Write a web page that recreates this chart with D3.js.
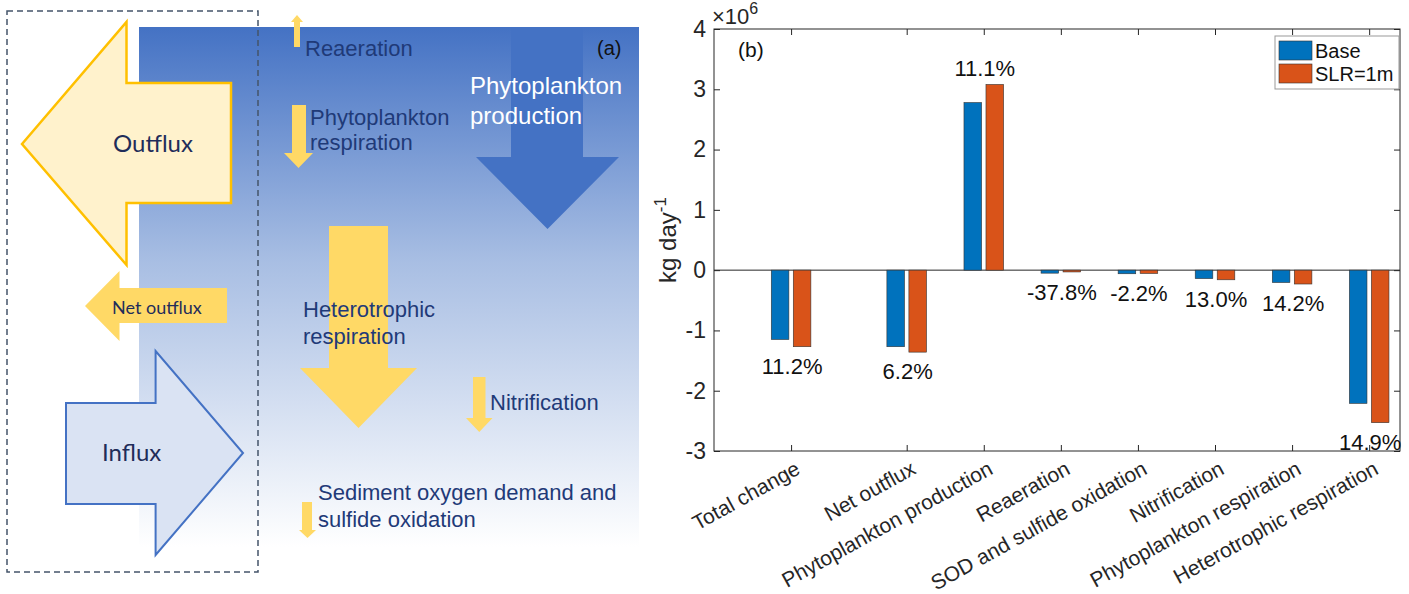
<!DOCTYPE html>
<html><head><meta charset="utf-8">
<script src="https://cdn.jsdelivr.net/npm/d3@7"></script>
<style>body{margin:0;background:#fff}svg{display:block}</style>
</head><body><svg id="c" width="1409" height="594"></svg>
<script>
const categories=["Total change","Net outflux","Phytoplankton production","Reaeration","SOD and sulfide oxidation","Nitrification","Phytoplankton respiration","Heterotrophic respiration"];
const positions=[0,1.5,2.5,3.5,4.5,5.5,6.5,7.5];
const baseVals=[-1.15,-1.27,2.78,-0.05,-0.06,-0.14,-0.205,-2.21];
const slrVals=[-1.27,-1.36,3.08,-0.03,-0.055,-0.16,-0.23,-2.53];
const pctLabels=["11.2%","6.2%","11.1%","-37.8%","-2.2%","13.0%","14.2%","14.9%"];
const yTicks=[-3,-2,-1,0,1,2,3,4];
const seriesNames=["Base","SLR=1m"];
const colors=["#0072bd","#d95319"];

const NF="Liberation Sans, Arial, sans-serif";
const svg=d3.select("#c");
// ---------- Panel (a) ----------
const A=svg.append("g");
const defs=svg.append("defs");
const lg=defs.append("linearGradient").attr("id","bg").attr("x1",0).attr("y1",0).attr("x2",0).attr("y2",1);
lg.append("stop").attr("offset","0").attr("stop-color","#4472c4");
lg.append("stop").attr("offset","0.45").attr("stop-color","#a8bee3");
lg.append("stop").attr("offset","1").attr("stop-color","#ffffff");
A.append("rect").attr("x",139).attr("y",27).attr("width",500).attr("height",520).attr("fill","url(#bg)");
const line=d3.line();
function poly(pts,fill,stroke,sw){A.append("path").attr("d",line(pts)+"Z").attr("fill",fill).attr("stroke",stroke||"none").attr("stroke-width",sw||0);}
function down(x0,x1,hx0,hx1,y0,yh,tip,fill){const c=(hx0+hx1)/2;poly([[x0,y0],[x1,y0],[x1,yh],[hx1,yh],[c,tip],[hx0,yh],[x0,yh]],fill);}
poly([[22,144],[126.5,22],[126.5,83],[231,83],[231,203],[126.5,203],[126.5,265]],"#fff2cc","#ffc000",2.5);
poly([[85,306],[119.5,271],[119.5,288],[227,288],[227,323],[119.5,323],[119.5,341]],"#ffd966");
poly([[66,403],[155.6,403],[155.6,351],[243,453],[155.6,555],[155.6,504],[66,504]],"#dae3f3","#4472c4",2);
down(511,583,476,619,27,157,229,"#4472c4");
down(329,388,300,417,226,368,428,"#ffd966");
down(292,306,284,313,105,153,168,"#ffd966");
down(473,485.5,466,492.5,377,418,432,"#ffd966");
down(302,312,299,316,502,530,538,"#ffd966");
poly([[294,47],[300,47],[300,22],[303,22],[297,15],[291,22],[294,22]],"#ffd966");
A.append("rect").attr("x",7).attr("y",11).attr("width",251).attr("height",561).attr("fill","none").attr("stroke","#44546a").attr("stroke-width",1.5).attr("stroke-dasharray","6,4");
function txt(x,y,s,size,col,fam,anchor){A.append("text").attr("x",x).attr("y",y).attr("font-size",size).attr("fill",col).attr("font-family",fam||NF).attr("text-anchor",anchor||"start").text(s);}
const navy="#1f3a78";
txt(305,56,"Reaeration",22,navy);
txt(310,125,"Phytoplankton",22,navy);txt(310,150,"respiration",22,navy);
txt(470,94,"Phytoplankton",24,"#ffffff");txt(470,124,"production",24,"#ffffff");
txt(597,55,"(a)",20,"#111");
txt(153,152,"Outflux",24,"#1f2d5a","Lato, sans-serif","middle");
txt(112,314,"Net outflux",18,"#1f2d5a","Lato, sans-serif");
txt(102,461,"Influx",24,"#1f2d5a","Lato, sans-serif");
txt(303,317,"Heterotrophic",22,navy);txt(303,344,"respiration",22,navy);
txt(490,410,"Nitrification",22,navy);
txt(318,500,"Sediment oxygen demand and",22,navy);txt(318,527,"sulfide oxidation",22,navy);

// ---------- Panel (b) ----------
const L=714,R=1400,T=29,B=451;
const x=d3.scaleLinear().domain([-1,7.9]).range([L,R]);
const y=d3.scaleLinear().domain([-3,4]).range([B,T]);
const G=svg.append("g").attr("font-family",NF);
const ax="#262626";
const fs=23;
const yA=G.append("g").attr("transform",`translate(${L},0)`).call(d3.axisLeft(y).tickValues(yTicks).tickSize(-6).tickPadding(8).tickFormat(d=>String(d)));
const yA2=G.append("g").attr("transform",`translate(${R},0)`).call(d3.axisRight(y).tickValues(yTicks).tickSize(-6).tickFormat(""));
const xA=G.append("g").attr("transform",`translate(0,${B})`).call(d3.axisBottom(x).tickValues(positions).tickSize(-6).tickFormat((d,i)=>categories[i]));
const xA2=G.append("g").attr("transform",`translate(0,${T})`).call(d3.axisTop(x).tickValues(positions).tickSize(-6).tickFormat(""));
[yA,yA2,xA,xA2].forEach(a=>{a.select(".domain").remove();a.selectAll("line").attr("stroke",ax);a.selectAll("text").attr("fill",ax).attr("font-size",fs).attr("font-family",NF);});
xA.selectAll("text").attr("font-size",21).attr("text-anchor","end").attr("y",0).attr("dy",0).attr("transform","translate(10,22) rotate(-29)");
G.append("rect").attr("x",L).attr("y",T).attr("width",R-L).attr("height",B-T).attr("fill","none").attr("stroke",ax);
G.append("line").attr("x1",L).attr("x2",R).attr("y1",y(0)).attr("y2",y(0)).attr("stroke",ax);
const bw=17.6,off=11;
[baseVals,slrVals].forEach((vals,s)=>{
  G.selectAll(null).data(vals).enter().append("rect")
   .attr("x",(d,i)=>x(positions[i])+(s?off:-off)-bw/2).attr("width",bw)
   .attr("y",d=>y(Math.max(0,d))).attr("height",d=>Math.abs(y(d)-y(0)))
   .attr("fill",colors[s]).attr("stroke","#333").attr("stroke-width",0.6);
});
G.selectAll(null).data(pctLabels).enter().append("text")
 .attr("x",(d,i)=>x(positions[i])+1).attr("text-anchor","middle").attr("font-size",22).attr("fill","#111")
 .attr("y",(d,i)=>{const m=slrVals[i]>0?Math.max(baseVals[i],slrVals[i]):Math.min(baseVals[i],slrVals[i]);return m>0?y(m)-8:y(m)+27;})
 .text(d=>d);
G.append("text").attr("x",738).attr("y",57).attr("font-size",21).attr("fill","#111").text("(b)");
G.append("text").attr("transform",`translate(676,240) rotate(-90)`).attr("text-anchor","middle").attr("font-size",24).attr("fill",ax)
 .html('kg day<tspan dy="-10" font-size="17">-1</tspan>');
G.append("text").attr("x",712).attr("y",24).attr("font-size",22).attr("fill",ax).html('×10<tspan dy="-10" font-size="16">6</tspan>');
const lgG=G.append("g");
lgG.append("rect").attr("x",1275).attr("y",36).attr("width",124).attr("height",53).attr("fill","#fff").attr("stroke","#999");
seriesNames.forEach((n,i)=>{
  lgG.append("rect").attr("x",1279).attr("y",41+i*23).attr("width",33).attr("height",19).attr("fill",colors[i]).attr("stroke","#333").attr("stroke-width",0.6);
  lgG.append("text").attr("x",1315).attr("y",58+i*23).attr("font-size",20).attr("fill","#111").text(n);
});
</script></body></html>
